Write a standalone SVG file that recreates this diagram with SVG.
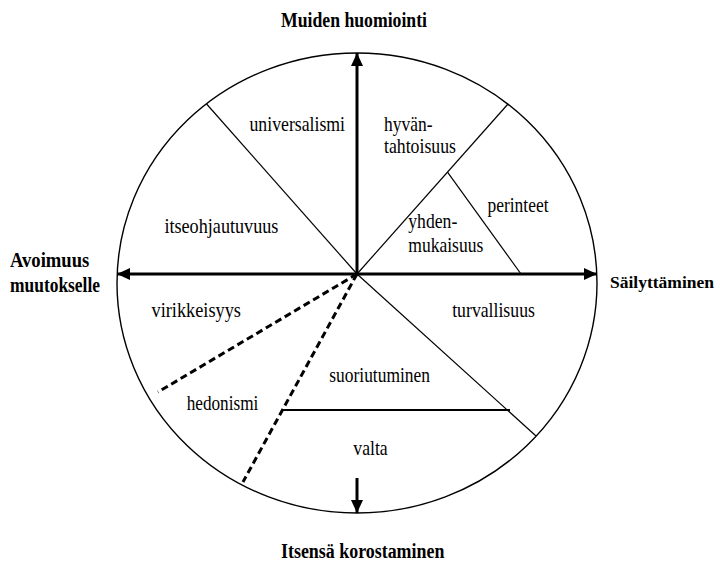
<svg xmlns="http://www.w3.org/2000/svg" width="720" height="562" viewBox="0 0 720 562">
  <defs>
    <marker id="head" markerUnits="userSpaceOnUse" markerWidth="13" markerHeight="12" refX="13" refY="6" orient="auto-start-reverse">
      <path d="M0,0 L13,6 L0,12 Z" fill="#000"/>
    </marker>
    <style>
      .lbl { font-family: "Liberation Serif", "Times New Roman", "DejaVu Serif", serif; font-size: 21px; fill: #000; }
      .axis-lbl { font-family: "Liberation Serif", "Times New Roman", "DejaVu Serif", serif; font-size: 20px; font-weight: bold; fill: #000; }
      .thin { stroke: #000; stroke-width: 1.2; fill: none; }
      .axis { stroke: #000; stroke-width: 3; fill: none; }
      .dash { stroke: #000; stroke-width: 3; stroke-dasharray: 7 4; fill: none; }
    </style>
  </defs>
  <rect x="0" y="0" width="720" height="562" fill="#fff"/>

  <g id="circle">
    <ellipse cx="357" cy="283" rx="240" ry="230" fill="none" stroke="#000" stroke-width="1.4"/>
  </g>

  <g id="connectors">
    <line class="thin" x1="206.6" y1="104" x2="357" y2="274"/>
    <line class="thin" x1="508" y1="104" x2="357" y2="274"/>
    <line class="thin" x1="447.7" y1="172.3" x2="521" y2="274"/>
    <line class="thin" x1="357" y1="274" x2="536" y2="436"/>
    <line x1="283" y1="410" x2="510" y2="410" stroke="#000" stroke-width="2"/>
    <line class="dash" x1="357" y1="274" x2="158" y2="392"/>
    <line class="dash" x1="357" y1="274" x2="243" y2="482"/>
    <line class="axis" x1="357" y1="274" x2="357" y2="53" marker-end="url(#head)"/>
    <line class="axis" x1="117" y1="274" x2="597" y2="274" marker-start="url(#head)" marker-end="url(#head)"/>
    <line class="axis" x1="357" y1="478" x2="357" y2="513" marker-end="url(#head)"/>
  </g>

  <g id="axis-top"><text class="axis-lbl" x="281" y="26.7" textLength="146" lengthAdjust="spacingAndGlyphs">Muiden huomiointi</text></g>
  <g id="axis-left">
    <text class="axis-lbl" x="10" y="266.7" textLength="79.3" lengthAdjust="spacingAndGlyphs">Avoimuus</text>
    <text class="axis-lbl" x="10" y="291.7" textLength="90" lengthAdjust="spacingAndGlyphs">muutokselle</text>
  </g>
  <g id="axis-right"><text class="axis-lbl" x="610" y="288.3" font-size="17.5" style="font-size:17.5px" textLength="104" lengthAdjust="spacingAndGlyphs">Säilyttäminen</text></g>
  <g id="axis-bottom"><text class="axis-lbl" x="281" y="558" textLength="163.4" lengthAdjust="spacingAndGlyphs">Itsensä korostaminen</text></g>

  <g id="universalismi"><text class="lbl" x="249.5" y="131" textLength="95.5" lengthAdjust="spacingAndGlyphs">universalismi</text></g>
  <g id="hyvantahtoisuus">
    <text class="lbl" x="384" y="130.5" textLength="48.5" lengthAdjust="spacingAndGlyphs">hyvän-</text>
    <text class="lbl" x="384" y="152.5" textLength="72" lengthAdjust="spacingAndGlyphs">tahtoisuus</text>
  </g>
  <g id="perinteet"><text class="lbl" x="487.5" y="211.5" textLength="61" lengthAdjust="spacingAndGlyphs">perinteet</text></g>
  <g id="itseohjautuvuus"><text class="lbl" x="164.4" y="232.7" textLength="114" lengthAdjust="spacingAndGlyphs">itseohjautuvuus</text></g>
  <g id="yhdenmukaisuus">
    <text class="lbl" x="408.3" y="228.3" textLength="49" lengthAdjust="spacingAndGlyphs">yhden-</text>
    <text class="lbl" x="408.3" y="252" textLength="75" lengthAdjust="spacingAndGlyphs">mukaisuus</text>
  </g>
  <g id="virikkeisyys"><text class="lbl" x="151.5" y="316.7" textLength="89.5" lengthAdjust="spacingAndGlyphs">virikkeisyys</text></g>
  <g id="turvallisuus"><text class="lbl" x="452.2" y="316.7" textLength="82.7" lengthAdjust="spacingAndGlyphs">turvallisuus</text></g>
  <g id="suoriutuminen"><text class="lbl" x="329.3" y="381.7" textLength="100.7" lengthAdjust="spacingAndGlyphs">suoriutuminen</text></g>
  <g id="hedonismi"><text class="lbl" x="186.7" y="410" textLength="71.6" lengthAdjust="spacingAndGlyphs">hedonismi</text></g>
  <g id="valta"><text class="lbl" x="353.3" y="455" textLength="34.4" lengthAdjust="spacingAndGlyphs">valta</text></g>
</svg>
